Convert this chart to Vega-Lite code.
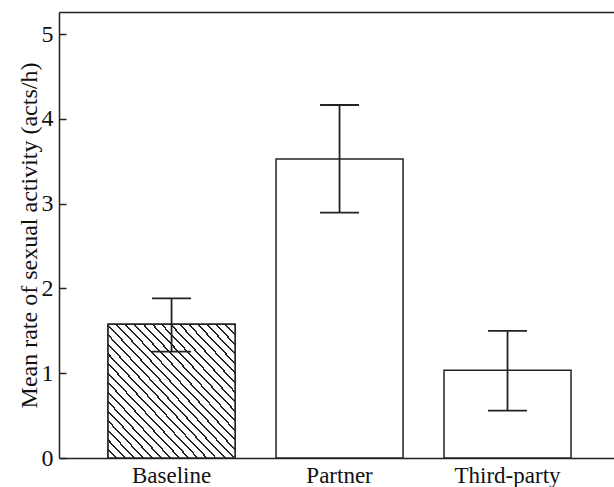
{
  "$schema": "https://vega.github.io/schema/vega-lite/v6.json",
  "autosize": "none",
  "width": 555,
  "height": 446,
  "padding": {"left": 59, "top": 12, "right": 0, "bottom": 29},
  "background": "white",
  "config": {
    "view": {"stroke": null},
    "font": "Liberation Serif",
    "axis": {"labelFont": "Liberation Serif", "titleFont": "Liberation Serif", "domainColor": "#222", "domainWidth": 1.5, "tickColor": "#222", "labelColor": "#111", "titleColor": "#111", "grid": false}
  },
  "data": {
    "values": [
      {"condition": "Baseline", "mean": 1.577, "lo": 1.255, "hi": 1.883},
      {"condition": "Partner", "mean": 3.526, "lo": 2.893, "hi": 4.163},
      {"condition": "Third-party", "mean": 1.034, "lo": 0.558, "hi": 1.5}
    ]
  },
  "resolve": {"axis": {"x": "independent", "y": "independent"}},
  "layer": [
    {
      "mark": {"type": "bar", "fill": "white", "stroke": "#222", "strokeWidth": 1.5},
      "encoding": {
        "x": {
          "field": "condition", "type": "nominal", "sort": null,
          "scale": {"paddingInner": 0.244, "paddingOuter": 0.274, "align": 0.533},
          "axis": {"orient": "bottom", "title": null, "labelAngle": 0, "ticks": false, "labelFontSize": 23, "labelPadding": 6, "domainWidth": 1.5}
        },
        "y": {
          "field": "mean", "type": "quantitative",
          "scale": {"domain": [0, 5.26], "nice": false, "zero": true},
          "axis": {"title": "Mean rate of sexual activity (acts/h)", "format": "d", "titleFontSize": 24, "titleFontWeight": "normal", "titlePadding": 0, "values": [0, 1, 2, 3, 4, 5], "tickSize": -7, "tickWidth": 1.5, "labelPadding": 13, "labelFontSize": 24, "domainWidth": 1.5}
        }
      }
    },
    {
      "transform": [{"filter": "datum.condition === 'Baseline'"}],
      "mark": {
        "type": "bar", "stroke": "#222", "strokeWidth": 1.5,
        "fill": {
          "gradient": "linear", "x1": 0, "y1": 1, "x2": 1, "y2": 0,
          "stops": [
            {"offset": 0, "color": "white"},
            {"offset": 0.0279, "color": "white"}, {"offset": 0.0279, "color": "#222"}, {"offset": 0.0357, "color": "#222"}, {"offset": 0.0357, "color": "white"},
            {"offset": 0.0636, "color": "white"}, {"offset": 0.0636, "color": "#222"}, {"offset": 0.0714, "color": "#222"}, {"offset": 0.0714, "color": "white"},
            {"offset": 0.0993, "color": "white"}, {"offset": 0.0993, "color": "#222"}, {"offset": 0.1071, "color": "#222"}, {"offset": 0.1071, "color": "white"},
            {"offset": 0.1351, "color": "white"}, {"offset": 0.1351, "color": "#222"}, {"offset": 0.1429, "color": "#222"}, {"offset": 0.1429, "color": "white"},
            {"offset": 0.1708, "color": "white"}, {"offset": 0.1708, "color": "#222"}, {"offset": 0.1786, "color": "#222"}, {"offset": 0.1786, "color": "white"},
            {"offset": 0.2065, "color": "white"}, {"offset": 0.2065, "color": "#222"}, {"offset": 0.2143, "color": "#222"}, {"offset": 0.2143, "color": "white"},
            {"offset": 0.2422, "color": "white"}, {"offset": 0.2422, "color": "#222"}, {"offset": 0.25, "color": "#222"}, {"offset": 0.25, "color": "white"},
            {"offset": 0.2779, "color": "white"}, {"offset": 0.2779, "color": "#222"}, {"offset": 0.2857, "color": "#222"}, {"offset": 0.2857, "color": "white"},
            {"offset": 0.3136, "color": "white"}, {"offset": 0.3136, "color": "#222"}, {"offset": 0.3214, "color": "#222"}, {"offset": 0.3214, "color": "white"},
            {"offset": 0.3493, "color": "white"}, {"offset": 0.3493, "color": "#222"}, {"offset": 0.3571, "color": "#222"}, {"offset": 0.3571, "color": "white"},
            {"offset": 0.3851, "color": "white"}, {"offset": 0.3851, "color": "#222"}, {"offset": 0.3929, "color": "#222"}, {"offset": 0.3929, "color": "white"},
            {"offset": 0.4208, "color": "white"}, {"offset": 0.4208, "color": "#222"}, {"offset": 0.4286, "color": "#222"}, {"offset": 0.4286, "color": "white"},
            {"offset": 0.4565, "color": "white"}, {"offset": 0.4565, "color": "#222"}, {"offset": 0.4643, "color": "#222"}, {"offset": 0.4643, "color": "white"},
            {"offset": 0.4922, "color": "white"}, {"offset": 0.4922, "color": "#222"}, {"offset": 0.5, "color": "#222"}, {"offset": 0.5, "color": "white"},
            {"offset": 0.5279, "color": "white"}, {"offset": 0.5279, "color": "#222"}, {"offset": 0.5357, "color": "#222"}, {"offset": 0.5357, "color": "white"},
            {"offset": 0.5636, "color": "white"}, {"offset": 0.5636, "color": "#222"}, {"offset": 0.5714, "color": "#222"}, {"offset": 0.5714, "color": "white"},
            {"offset": 0.5993, "color": "white"}, {"offset": 0.5993, "color": "#222"}, {"offset": 0.6071, "color": "#222"}, {"offset": 0.6071, "color": "white"},
            {"offset": 0.6351, "color": "white"}, {"offset": 0.6351, "color": "#222"}, {"offset": 0.6429, "color": "#222"}, {"offset": 0.6429, "color": "white"},
            {"offset": 0.6708, "color": "white"}, {"offset": 0.6708, "color": "#222"}, {"offset": 0.6786, "color": "#222"}, {"offset": 0.6786, "color": "white"},
            {"offset": 0.7065, "color": "white"}, {"offset": 0.7065, "color": "#222"}, {"offset": 0.7143, "color": "#222"}, {"offset": 0.7143, "color": "white"},
            {"offset": 0.7422, "color": "white"}, {"offset": 0.7422, "color": "#222"}, {"offset": 0.75, "color": "#222"}, {"offset": 0.75, "color": "white"},
            {"offset": 0.7779, "color": "white"}, {"offset": 0.7779, "color": "#222"}, {"offset": 0.7857, "color": "#222"}, {"offset": 0.7857, "color": "white"},
            {"offset": 0.8136, "color": "white"}, {"offset": 0.8136, "color": "#222"}, {"offset": 0.8214, "color": "#222"}, {"offset": 0.8214, "color": "white"},
            {"offset": 0.8493, "color": "white"}, {"offset": 0.8493, "color": "#222"}, {"offset": 0.8571, "color": "#222"}, {"offset": 0.8571, "color": "white"},
            {"offset": 0.8851, "color": "white"}, {"offset": 0.8851, "color": "#222"}, {"offset": 0.8929, "color": "#222"}, {"offset": 0.8929, "color": "white"},
            {"offset": 0.9208, "color": "white"}, {"offset": 0.9208, "color": "#222"}, {"offset": 0.9286, "color": "#222"}, {"offset": 0.9286, "color": "white"},
            {"offset": 0.9565, "color": "white"}, {"offset": 0.9565, "color": "#222"}, {"offset": 0.9643, "color": "#222"}, {"offset": 0.9643, "color": "white"},
            {"offset": 0.9922, "color": "white"}, {"offset": 0.9922, "color": "#222"}, {"offset": 1, "color": "#222"}
          ]
        }
      },
      "encoding": {
        "x": {"field": "condition", "type": "nominal", "sort": null, "axis": {"orient": "top", "title": null, "labels": false, "ticks": false, "domainWidth": 1.5}},
        "y": {"field": "mean", "type": "quantitative", "scale": {"domain": [0, 5.26], "nice": false}, "axis": null}
      }
    },
    {
      "mark": {"type": "rule", "stroke": "#222", "strokeWidth": 1.8},
      "encoding": {
        "x": {"field": "condition", "type": "nominal", "sort": null, "axis": null},
        "y": {"field": "lo", "type": "quantitative", "scale": {"domain": [0, 5.26], "nice": false}, "axis": null},
        "y2": {"field": "hi"}
      }
    },
    {
      "mark": {"type": "tick", "color": "#222", "size": 39, "thickness": 1.8, "opacity": 1},
      "encoding": {
        "x": {"field": "condition", "type": "nominal", "sort": null, "axis": null},
        "y": {"field": "lo", "type": "quantitative", "scale": {"domain": [0, 5.26], "nice": false}, "axis": null}
      }
    },
    {
      "mark": {"type": "tick", "color": "#222", "size": 39, "thickness": 1.8, "opacity": 1},
      "encoding": {
        "x": {"field": "condition", "type": "nominal", "sort": null, "axis": null},
        "y": {"field": "hi", "type": "quantitative", "scale": {"domain": [0, 5.26], "nice": false}, "axis": null}
      }
    }
  ]
}
